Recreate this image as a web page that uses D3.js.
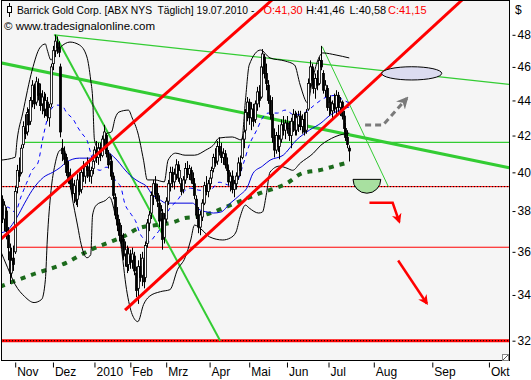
<!DOCTYPE html>
<html><head><meta charset="utf-8">
<script src="https://cdn.jsdelivr.net/npm/d3@7"></script>
<style>
html,body{margin:0;padding:0;background:#fff;}
svg{display:block;font-family:"Liberation Sans","DejaVu Sans",sans-serif;}
text{white-space:pre;}
</style>
</head><body>
<svg id="c" width="531" height="380"></svg>
<script>
// ---------------- DATA ----------------
const title = "Barrick Gold Corp. [ABX NYS  Täglich] 19.07.2010 -";
const quoteLabels = ["O:41,30", "H:41,46", "L:40,58", "C:41,15"];
const copyright = "© www.tradesignalonline.com";
const currency = "$";

// x positions are trading-day slots (0 = 2 Nov 2009); after the last bar, calendar days
const monthLabels = ["Nov","Dez","2010","Feb","Mrz","Apr","Mai","Jun","Jul","Aug","Sep","Okt"];
const monthSlots  = [0, 20, 42, 61, 80, 103, 124, 144, 166, 190, 221, 251];
const priceTicks  = [32, 34, 36, 38, 40, 42, 44, 46, 48];

const firstSlot = -8;
// daily candles [open, high, low, close]
const candles = [
[38.0,39.0,37.6,38.6],[38.6,38.8,37.4,37.8],[37.6,38.5,37.0,38.3],[38.0,38.2,36.6,37.0],
[36.8,37.2,35.6,36.2],[36.0,36.4,34.5,35.0],[35.0,36.2,34.8,35.6],[35.7,36.3,35.1,35.4],
[36.0,39.3,35.9,39.0],[39.2,40.4,38.9,40.1],[40.0,40.8,39.5,39.8],[40.0,41.5,39.9,41.3],
[41.5,42.8,41.3,42.5],[42.4,43.2,41.8,42.1],[42.2,43.6,42.0,43.3],[43.2,43.5,42.2,42.6],
[42.8,44.2,42.6,44.0],[44.0,45.2,43.6,44.9],[44.8,45.0,43.5,43.8],[43.9,45.4,43.7,45.1],
[45.0,45.3,44.0,44.3],[44.4,45.0,43.4,43.7],[43.8,44.6,43.2,44.2],[44.1,44.5,43.0,43.4],
[43.5,44.4,43.1,44.0],[43.9,44.2,42.8,43.1],[43.0,43.8,42.5,43.6],[43.8,46.2,43.6,46.0],
[46.2,47.3,45.8,47.0],[47.0,48.0,46.6,47.6],[47.5,47.9,46.8,47.2],[47.2,47.6,46.6,46.9],
[46.0,46.2,41.9,42.2],[41.3,41.8,40.6,41.0],[41.0,41.4,40.4,40.7],[40.8,41.0,39.8,40.0],
[40.0,40.6,39.4,39.6],[39.7,40.2,39.1,39.4],[39.4,39.8,38.6,38.9],[38.9,39.6,38.4,39.3],
[39.2,39.5,38.3,38.5],[38.6,39.9,38.2,39.6],[39.5,40.0,38.8,39.0],[39.1,40.2,38.9,40.0],
[40.0,40.6,39.5,39.8],[39.8,40.5,39.4,40.3],[40.3,40.8,39.7,40.1],[40.1,40.6,39.5,39.8],
[39.8,40.3,39.4,40.1],[40.2,40.9,39.9,40.6],[40.6,41.4,40.4,41.2],[41.2,41.7,40.5,40.8],
[40.8,41.6,40.4,41.3],[41.3,41.6,40.6,40.9],[40.9,42.0,40.8,41.8],[41.8,42.6,41.4,42.2],
[42.0,42.1,40.8,41.0],[41.0,41.2,40.2,40.4],[40.5,41.0,39.8,40.7],[40.6,40.9,39.6,39.8],
[39.8,40.0,38.6,38.8],[38.7,38.9,37.6,37.8],[37.8,38.2,37.0,37.3],[37.4,37.6,36.5,36.8],
[36.8,37.3,36.2,36.5],[36.6,36.9,35.6,35.8],[35.9,36.5,35.3,36.1],[36.0,36.3,35.0,35.3],
[35.4,36.2,35.1,35.9],[35.8,36.1,35.2,35.5],[35.6,36.2,35.2,35.9],[35.8,36.0,34.9,35.1],
[35.0,35.3,33.9,34.2],[34.3,35.6,33.6,35.3],[35.3,35.9,34.6,34.8],[34.9,36.0,34.4,35.7],
[35.6,36.0,34.3,34.6],[34.8,36.5,34.7,36.3],[36.4,37.6,36.2,37.4],[37.4,38.0,37.0,37.8],
[37.9,39.0,37.6,38.8],[38.8,39.6,38.3,39.4],[39.4,39.8,38.6,38.9],[38.9,39.4,38.2,38.5],
[38.4,38.8,37.2,37.5],[37.6,38.3,36.9,38.0],[37.9,38.1,36.1,36.6],[36.7,37.9,36.4,37.6],
[37.6,38.7,37.4,38.5],[38.5,39.6,38.3,39.4],[39.4,40.3,39.0,40.0],[40.0,40.3,39.2,39.5],
[39.5,40.2,39.1,39.9],[39.9,40.7,39.6,40.4],[40.4,40.6,39.5,39.7],[39.7,40.3,39.4,40.1],
[39.4,39.7,38.8,39.0],[39.1,39.8,38.9,39.6],[39.6,40.5,39.4,40.2],[40.2,40.6,39.7,39.9],
[39.9,40.4,39.6,40.2],[40.1,40.3,39.4,39.6],[39.6,40.0,39.2,39.4],[39.4,39.7,38.6,38.8],
[38.6,38.8,37.6,37.8],[37.8,38.2,36.9,37.2],[37.2,38.0,36.8,37.8],[37.7,38.6,37.5,38.4],
[38.4,39.5,38.3,39.3],[39.3,39.8,38.8,39.0],[39.0,39.6,38.7,39.4],[39.4,39.9,39.1,39.7],
[39.7,40.3,39.4,40.1],[40.2,41.0,40.0,40.8],[40.8,41.3,40.3,40.5],[40.6,41.7,40.4,41.4],
[41.4,41.9,40.9,41.1],[41.1,41.6,40.5,40.8],[40.8,41.3,40.4,41.0],[41.0,41.2,40.2,40.4],
[40.4,40.8,39.9,40.1],[40.1,40.3,39.3,39.5],[39.5,40.0,39.0,39.8],[39.8,40.1,38.9,39.1],
[39.1,39.6,38.7,39.4],[39.4,40.0,39.1,39.8],[39.8,40.8,39.6,40.5],[40.5,40.9,39.8,40.1],
[40.8,42.0,40.7,41.8],[41.8,42.5,41.3,42.2],[42.3,43.5,42.1,43.3],[43.3,44.2,42.8,43.9],
[43.9,44.1,42.6,43.0],[43.0,43.9,42.3,43.5],[43.5,43.8,42.5,42.8],[42.9,44.0,42.7,43.8],
[43.8,44.8,43.4,44.5],[44.5,44.9,43.6,44.0],[44.2,46.2,44.1,46.0],[46.0,47.1,45.5,46.8],
[46.6,46.8,45.3,45.6],[45.6,46.2,44.6,45.0],[44.9,45.2,43.8,44.0],[44.0,44.3,42.9,43.2],
[43.2,44.2,41.6,41.9],[41.9,42.4,40.8,41.2],[41.2,42.2,41.0,42.0],[42.0,42.6,41.1,41.4],
[41.4,42.0,40.7,41.8],[41.8,42.9,41.6,42.6],[42.6,43.1,42.0,42.3],[42.3,42.9,41.8,42.7],
[42.7,43.1,42.1,42.4],[42.4,42.8,41.7,42.0],[42.0,43.0,41.3,42.8],[42.8,43.5,42.2,43.2],
[43.2,43.4,42.0,42.3],[42.3,43.3,42.0,43.0],[42.6,43.4,42.2,43.1],[43.1,43.4,42.3,42.5],
[42.5,43.2,42.1,42.9],[42.9,43.3,42.0,42.2],[42.3,43.5,42.1,43.3],[43.5,45.3,43.4,45.0],
[45.0,46.4,44.7,46.0],[46.0,46.2,44.9,45.2],[45.2,45.9,44.4,44.7],[44.7,45.6,44.1,45.3],
[45.3,45.8,44.6,44.9],[45.0,46.6,44.9,46.4],[46.4,47.3,45.8,46.0],[45.6,45.8,44.4,44.6],
[44.6,45.2,44.2,44.9],[44.7,44.9,43.4,43.6],[43.6,44.2,43.1,43.9],[43.9,44.3,43.2,43.4],
[43.4,44.0,42.9,43.8],[43.8,44.4,43.3,43.5],[43.6,44.6,43.2,44.3],[44.3,44.5,43.3,43.6],
[43.6,44.2,43.1,43.9],[43.9,44.0,42.9,43.1],[43.1,43.4,42.2,42.4],[42.4,42.7,41.7,41.9],
[41.9,42.3,41.3,41.5],[41.30,41.46,40.58,41.15]
];

// indicator lines [slot, price]
const bollUpper = [[-8,40.65],[0,40.81],[1,41.75],[4,43.27],[9,45.81],[13,47.17],[16,47.42],[17,47.04],[19,46.42],[21,46.86],[24,47.23],[29,47.54],[34,47.36],[38,46.61],[40,45.21],[41,44.2],[42,41.75],[44,41.3],[46,41.5],[48,42.1],[51,42.2],[53,42.99],[55,43.33],[60,43.44],[62,42.99],[65,42.14],[68,40.65],[70,39.6],[74,39.6],[79,39.5],[81,40.65],[85,41.03],[90,40.92],[95,40.92],[101,41.2],[105,41.47],[108,41.86],[115,41.92],[120,41.75],[122,44.02],[124,46.12],[130,47.04],[135,46.55],[143,46.36],[148,46.12],[151,44.91],[155,43.85],[157,44.91],[160,46.3],[163,46.86],[170,46.73],[177,46.55]];
const bollLower = [[-8,36.1],[-4,35.25],[0,34.47],[5,33.93],[10,33.66],[14,33.8],[16,34.7],[17,36.57],[19,39.06],[21,40.38],[24,41.2],[26,41.2],[28,40.11],[30,38.81],[33,37.3],[35,36.34],[38,35.72],[40,35.86],[41,37.8],[43,38.3],[48,38.55],[50,38.71],[53,37.8],[56,36.34],[59,34.24],[62,33.13],[65,32.82],[68,33.57],[71,33.93],[77,34.15],[82,34.24],[86,35.16],[90,35.72],[93,36.57],[95,37.3],[99,37.06],[103,36.72],[110,36.57],[114,36.67],[117,36.96],[119,37.65],[122,38.3],[124,38.15],[129,37.9],[131,37.95],[133,38.81],[135,40.01],[140,40.33],[144,40.22],[147,40.11],[151,40.49],[158,41.03],[162,41.47],[166,41.75],[172,42.03],[177,42.14]];
const avg20 = [[-8,37.95],[-4,38.2],[0,37.95],[3,38.71],[6,39.43],[9,40.11],[12,40.49],[15,42.03],[18,43.27],[20,43.62],[22,43.73],[25,43.68],[27,43.33],[31,42.87],[33,42.48],[36,42.03],[38,41.75],[40,41.03],[42,40.27],[45,40.11],[48,40.27],[50,40.27],[53,39.58],[56,39.22],[58,38.4],[61,37.9],[64,37.45],[66,36.91],[69,36.57],[71,36.48],[74,36.77],[77,37.16],[79,37.65],[82,38.15],[86,38.55],[89,38.96],[93,39.17],[98,39.06],[103,39.06],[108,39.48],[114,39.32],[117,39.43],[121,40.49],[124,41.47],[128,42.31],[131,42.99],[134,43.27],[139,43.27],[143,43.44],[148,43.16],[154,43.33],[158,43.68],[162,44.02],[165,44.2],[170,44.3],[172,44.15],[177,43.85]];
const avg50 = [[-8,36.91],[-4,37.06],[1,37.7],[5,38.4],[9,39.06],[15,39.74],[20,40.01],[24,40.27],[27,40.54],[34,40.76],[40,40.76],[42,41.09],[47,41.31],[50,41.03],[54,40.65],[57,40.27],[62,39.74],[66,39.48],[70,39.22],[72,38.91],[77,38.55],[80,38.4],[94,38.4],[98,38.05],[102,37.95],[105,37.9],[109,37.95],[114,38.4],[119,38.81],[123,39.22],[126,39.95],[131,40.33],[135,40.65],[142,40.92],[149,41.75],[156,42.31],[162,42.7],[167,43.16],[172,43.44],[177,43.62]];
const avg200 = [[-8,34.38],[9,34.93],[27,35.48],[40,36.1],[49,36.43],[57,36.72],[66,37.16],[75,37.3],[84,37.45],[90,37.65],[96,37.7],[105,37.95],[114,38.3],[123,38.65],[131,38.96],[138,39.17],[144,39.43],[152,39.95],[161,40.11],[171,40.38],[177,40.54]];

// drawn trend lines [[slot, price],[slot, price]]
const redTrendUpper = [[-8.05,36.57],[136.1,50.27]];
const redTrendLower = [[58.2,33.32],[236.8,50.27]];
const greenTopLine  = [[20.5,48.0],[261.7,44.95]];
const greenThick    = [[-8.05,46.26],[261.7,40.24]];
const greenSteep    = [[21.1,48.0],[108.6,32.0]];
const greenJune     = [[162.7,47.25],[197.7,39.25]];
// horizontal levels: [price, startSlot]
const greenLevel = [41.62, 4.7];
const redDotLevel = [39.25, -8.05];
const redLevel = [36.22, 0];
const redThickLevel = [32.0, -8.05];
// annotations
const ellipseBox   = {s0:194.2, s1:226.0, pTop:46.01, pBot:45.21};
const grayArrow    = [[185.4,42.59],[194.9,42.59],[207.5,44.12]];
const semiCircle   = {s0:179.0, s1:193.7, p:39.63};
const redArrow1    = [[187.7,38.42],[200.0,38.42],[203.5,37.46]];
const redArrow2    = [[202.9,35.59],[218.1,33.62]];

// ---------------- CHART ----------------
const svg = d3.select("#c");
const L = 1.5, R = 509.5, T = 0.5, B = 360.5;
const x = d3.scaleLinear().domain([0, 166]).range([15.2, 328.5]);
const y = d3.scaleLog().domain([32, 48]).range([340.7, 34.8]);

const defs = svg.append("defs");
defs.append("clipPath").attr("id","clip").append("rect")
  .attr("x",L).attr("y",T).attr("width",R-L).attr("height",B-T);
function marker(id, color){
  defs.append("marker").attr("id",id).attr("viewBox","0 0 10 10")
    .attr("refX",8).attr("refY",5).attr("markerWidth",4).attr("markerHeight",4)
    .attr("orient","auto").attr("markerUnits","strokeWidth")
    .append("path").attr("d","M0,0 L10,5 L0,10 L3,5 Z").attr("fill",color);
}
marker("mRed","#ff0000"); marker("mGray","#7a7a7a");

svg.append("rect").attr("x",L).attr("y",T).attr("width",R-L).attr("height",B-T)
  .attr("fill","#f5f5f5");

const g = svg.append("g").attr("clip-path","url(#clip)");
const line = d3.line().x(d=>x(d[0])).y(d=>y(d[1]));
const curve = d3.line().x(d=>x(d[0])).y(d=>y(d[1])).curve(d3.curveMonotoneX);

// horizontal levels
function hline(level, color, w, dash){
  g.append("line").attr("x1",x(level[1])).attr("x2",R).attr("y1",y(level[0])).attr("y2",y(level[0]))
   .attr("stroke",color).attr("stroke-width",w).attr("stroke-dasharray",dash||null);
}
hline(redThickLevel, "#ff0000", 3);
hline(redThickLevel, "#000", 1, "1,2");
hline(redDotLevel, "#ff0000", 1);
hline(redDotLevel, "#000", 1, "1,2");
hline(redLevel, "#ff0000", 1);
hline(greenLevel, "#33cc33", 1.2);

// trend lines
g.append("path").attr("d",line(greenTopLine)).attr("stroke","#33cc33").attr("stroke-width",1.2).attr("fill","none");
g.append("path").attr("d",line(greenThick)).attr("stroke","#33cc33").attr("stroke-width",3).attr("fill","none");
g.append("path").attr("d",line(greenSteep)).attr("stroke","#33cc33").attr("stroke-width",2).attr("fill","none");
g.append("path").attr("d",line(greenJune)).attr("stroke","#33cc33").attr("stroke-width",1).attr("fill","none");

// indicators
g.append("path").attr("d",curve(avg200)).attr("stroke","#1c6b1c").attr("stroke-width",4)
  .attr("stroke-dasharray","5,6").attr("fill","none");
g.append("path").attr("d",curve(bollUpper)).attr("stroke","#000").attr("stroke-width",1).attr("fill","none");
g.append("path").attr("d",curve(bollLower)).attr("stroke","#000").attr("stroke-width",1).attr("fill","none");
g.append("path").attr("d",curve(avg50)).attr("stroke","#0000dd").attr("stroke-width",1).attr("fill","none");
g.append("path").attr("d",curve(avg20)).attr("stroke","#0000ff").attr("stroke-width",1)
  .attr("stroke-dasharray","4,4").attr("fill","none");

// candles
const cg = g.append("g");
candles.forEach((c,i)=>{
  const s = firstSlot + i, cx = Math.round(x(s)) + 0.5;
  const [o,h,l,cl] = c;
  cg.append("line").attr("x1",cx).attr("x2",cx).attr("y1",y(h)).attr("y2",y(l))
    .attr("stroke","#000").attr("stroke-width",1);
  const top = y(Math.max(o,cl)), bot = y(Math.min(o,cl));
  cg.append("rect").attr("x",cx-1).attr("y",top).attr("width",2).attr("height",Math.max(1,bot-top))
    .attr("fill", cl>=o ? "#fff" : "#000").attr("stroke","#000").attr("stroke-width",0.8);
});

// red channel
g.append("path").attr("d",line(redTrendUpper)).attr("stroke","#ff0000").attr("stroke-width",3).attr("fill","none");
g.append("path").attr("d",line(redTrendLower)).attr("stroke","#ff0000").attr("stroke-width",3).attr("fill","none");

// annotations
const ex0 = x(ellipseBox.s0), ex1 = x(ellipseBox.s1), ey0 = y(ellipseBox.pTop), ey1 = y(ellipseBox.pBot);
g.append("ellipse").attr("cx",(ex0+ex1)/2).attr("cy",(ey0+ey1)/2).attr("rx",(ex1-ex0)/2).attr("ry",(ey1-ey0)/2)
  .attr("fill","#dcdcf0").attr("stroke","#000").attr("stroke-width",1);
g.append("path").attr("d",line(grayArrow)).attr("stroke","#7a7a7a").attr("stroke-width",3)
  .attr("stroke-dasharray","6,4").attr("fill","none").attr("marker-end","url(#mGray)");
const sx0 = x(semiCircle.s0), sx1 = x(semiCircle.s1), sy = y(semiCircle.p), sr = (sx1-sx0)/2;
g.append("path").attr("d",`M${sx0},${sy} A${sr},${sr} 0 0 0 ${sx1},${sy} Z`)
  .attr("fill","#a8e0a0").attr("stroke","#000").attr("stroke-width",1);
g.append("path").attr("d",line(redArrow1)).attr("stroke","#ff0000").attr("stroke-width",2.5)
  .attr("fill","none").attr("marker-end","url(#mRed)");
g.append("path").attr("d",line(redArrow2)).attr("stroke","#ff0000").attr("stroke-width",2.5)
  .attr("fill","none").attr("marker-end","url(#mRed)");

// header
const hdr = svg.append("g").attr("font-size",11).attr("fill","#000");
hdr.append("line").attr("x1",9.5).attr("x2",9.5).attr("y1",3).attr("y2",17).attr("stroke","#000");
hdr.append("rect").attr("x",7.5).attr("y",6.5).attr("width",4).attr("height",6).attr("fill","#fff").attr("stroke","#000");
hdr.append("text").attr("x",17).attr("y",14).attr("font-size",10.3).text(title);
const qx = [263.5, 306, 349.5, 388], qc = ["#ff0000","#000","#000","#ff0000"];
quoteLabels.forEach((t,i)=>hdr.append("text").attr("x",qx[i]).attr("y",14).attr("fill",qc[i]).text(t));
hdr.append("text").attr("x",4).attr("y",30).attr("font-size",11.5).text(copyright);

// frame
svg.append("rect").attr("x",L).attr("y",T).attr("width",R-L).attr("height",B-T)
  .attr("fill","none").attr("stroke","#000").attr("stroke-width",1);
svg.append("rect").attr("x",502.5).attr("y",354.5).attr("width",6).attr("height",6).attr("fill","#fff").attr("stroke","#888");
svg.append("line").attr("x1",503).attr("y1",360).attr("x2",508).attr("y2",355).attr("stroke","#555");

// axes
const xAxis = d3.axisBottom(x).tickValues(monthSlots).tickFormat((d,i)=>monthLabels[i])
  .tickSizeInner(6).tickSizeOuter(0).tickPadding(2);
const xa = svg.append("g").attr("transform",`translate(0,${B+1})`).call(xAxis);
xa.select(".domain").remove();
xa.selectAll(".tick line").attr("stroke","#000").attr("y1",1).attr("y2",6);
xa.selectAll(".tick text").attr("text-anchor","start").attr("x",1.5).attr("y",6).attr("dy","0.71em")
  .attr("font-size",12).attr("font-family","Liberation Sans, DejaVu Sans, sans-serif").attr("fill","#000");

const yAxis = d3.axisRight(y).tickValues(priceTicks).tickFormat(d3.format("d"))
  .tickSizeInner(4).tickSizeOuter(0).tickPadding(2);
const ya = svg.append("g").attr("transform",`translate(${R},0)`).call(yAxis);
ya.select(".domain").remove();
ya.selectAll(".tick line").attr("stroke","#000").attr("x1",3).attr("x2",6);
ya.selectAll(".tick text").attr("x",8).attr("font-size",12)
  .attr("font-family","Liberation Sans, DejaVu Sans, sans-serif").attr("fill","#000");
svg.append("text").attr("x",515).attr("y",14).attr("font-size",12).attr("fill","#000").text(currency);
</script>
</body></html>
